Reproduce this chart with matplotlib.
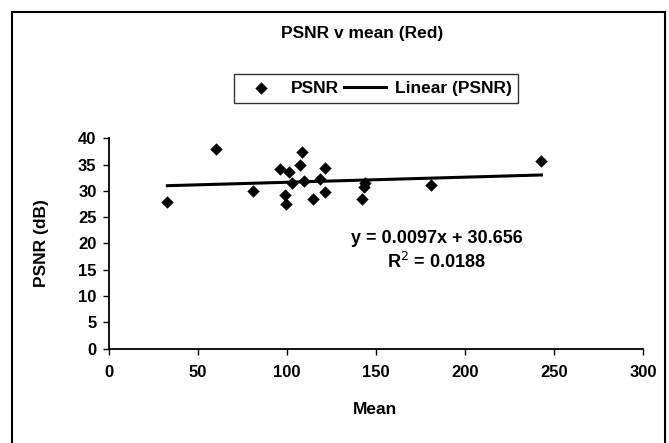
import matplotlib
matplotlib.use('Agg')
import matplotlib.pyplot as plt
import numpy as np
from matplotlib.patches import Rectangle

plt.rcParams['font.family'] = ['Liberation Sans', 'DejaVu Sans']

# values
mean_vals = [32.8, 60.3, 80.9, 96.3, 101.1, 98.7, 99.7, 102.8, 108.6, 107.5,
             109.6, 114.6, 121.2, 118.8, 121.2, 142.4, 143.8, 143.5, 181.1, 243.0]
psnr_vals = [27.8, 37.9, 29.9, 34.1, 33.5, 29.3, 27.5, 31.4, 37.3, 34.9,
             31.9, 28.4, 34.4, 32.2, 29.8, 28.4, 31.4, 30.8, 31.1, 35.6]
slope = 0.0097
intercept = 30.656
x_ticks = [0, 50, 100, 150, 200, 250, 300]
y_ticks = [0, 5, 10, 15, 20, 25, 30, 35, 40]

fig = plt.figure(figsize=(6.69, 4.43), dpi=100)
ax = fig.add_axes([0.163, 0.213, 0.798, 0.475])

ax.scatter(mean_vals, psnr_vals, marker='D', s=40, color='black', lw=0, zorder=3, label='PSNR')
xs = np.array([min(mean_vals), max(mean_vals)])
ax.plot(xs, slope * xs + intercept, color='black', lw=2.2, label='Linear (PSNR)')

ax.set_xlim(0, 300)
ax.set_ylim(0, 40)
ax.set_xticks(x_ticks)
ax.set_yticks(y_ticks)
for s in ['top', 'right']:
    ax.spines[s].set_visible(False)
for s in ['left', 'bottom']:
    ax.spines[s].set_linewidth(1.3)
ax.tick_params(direction='out', length=4, width=1, labelsize=12)
ax.tick_params(axis='x', pad=8)
ax.tick_params(axis='y', pad=5)
for lab in ax.get_xticklabels() + ax.get_yticklabels():
    lab.set_fontweight('bold')

ax.text(184, 21.0, 'y = 0.0097x + 30.656', ha='center', va='center',
        fontsize=13, fontweight='bold')
ax.text(184, 16.4, 'R$^2$ = 0.0188', ha='center', va='center',
        fontsize=13, fontweight='bold')

fig.text(0.541, 0.925, 'PSNR v mean (Red)', ha='center', va='center',
         fontsize=12.5, fontweight='bold')
fig.text(0.062, 0.451, 'PSNR (dB)', rotation=90, ha='center', va='center',
         fontsize=12.5, fontweight='bold')
fig.text(0.561, 0.075, 'Mean', ha='center', va='center',
         fontsize=12.5, fontweight='bold')

leg = fig.legend(loc='center', bbox_to_anchor=(0.562, 0.801), ncol=2,
                 frameon=True, fancybox=False, edgecolor='black',
                 prop={'size': 12.5, 'weight': 'bold'}, handlelength=2.4,
                 columnspacing=0.3, handletextpad=0.5, borderpad=0.4)
leg.get_frame().set_linewidth(1)

fig.patches.append(Rectangle((0.018, -0.1), 0.976, 1.073, transform=fig.transFigure,
                             fill=False, edgecolor='black', lw=1.5))

fig.savefig('out.png', dpi=100)
